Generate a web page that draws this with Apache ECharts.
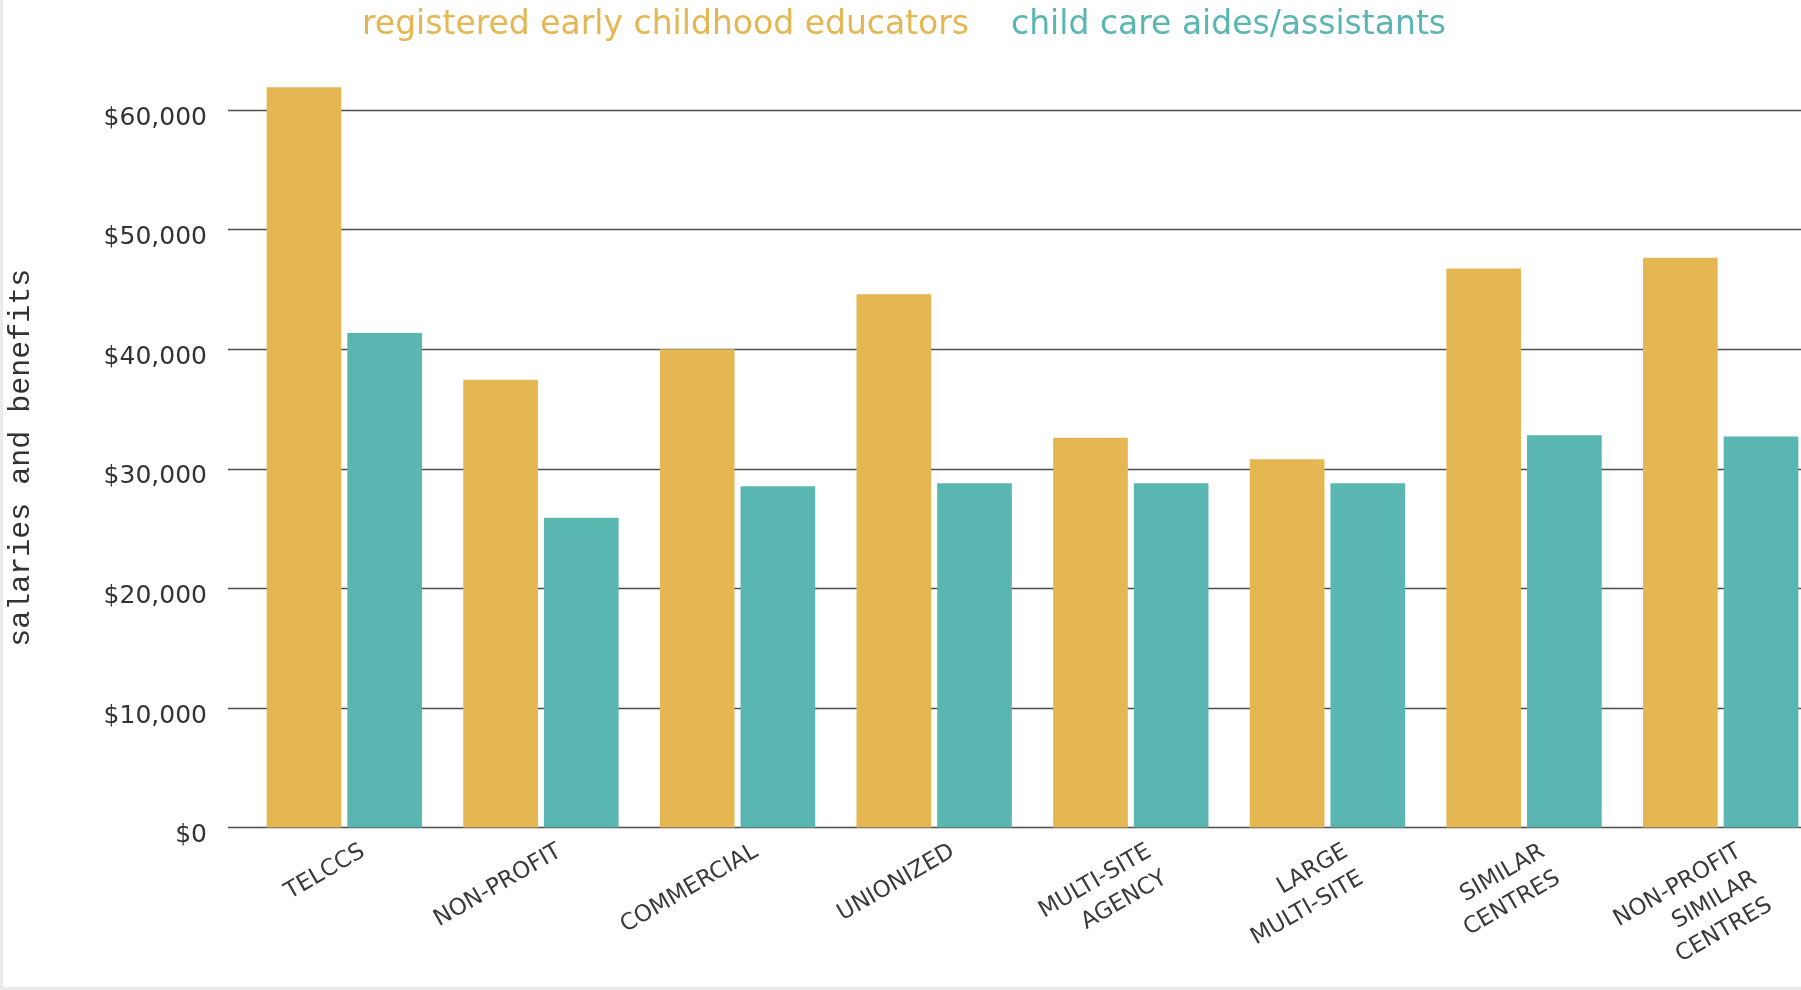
<!DOCTYPE html>
<html>
<head>
<meta charset="utf-8">
<script src="https://cdn.jsdelivr.net/npm/echarts@6/dist/echarts.min.js"></script>
<style>
  html, body { margin: 0; padding: 0; background: #ebebeb; width: 1801px; height: 990px; overflow: hidden; }
  #chart { position: absolute; left: 3px; top: 0; width: 1798px; height: 987px; background: #ffffff; }
</style>
</head>
<body>
<div id="chart"></div>
<script>
const categories = [
  'TELCCS',
  'NON-PROFIT',
  'COMMERCIAL',
  'UNIONIZED',
  'MULTI-SITE\nAGENCY',
  'LARGE\nMULTI-SITE',
  'SIMILAR\nCENTRES',
  'NON-PROFIT\nSIMILAR\nCENTRES'
];
const seriesNames = ['registered early childhood educators', 'child care aides/assistants'];
const eceValues = [61900, 37450, 40000, 44600, 32600, 30800, 46750, 47650];
const aideValues = [41350, 25900, 28550, 28800, 28800, 28800, 32800, 32700];
const yTicks = { min: 0, max: 60000, interval: 10000 };
const colors = ['#E5B752', '#5AB6B1'];

const chart = echarts.init(document.getElementById('chart'), null, { renderer: 'canvas' });

const option = {
  animation: false,
  backgroundColor: '#ffffff',
  legend: {
    left: 349,
    top: 4,
    icon: 'rect',
    itemWidth: 0,
    itemHeight: 0,
    itemGap: 37,
    selectedMode: false,
    textStyle: { fontFamily: 'DejaVu Sans', fontSize: 33, fontWeight: 'normal' },
    data: [
      { name: seriesNames[0], textStyle: { color: colors[0] } },
      { name: seriesNames[1], textStyle: { color: colors[1] } }
    ]
  },
  grid: [
    { left: 225, width: 1573, top: 110, bottom: 159.4, outerBoundsMode: 'none', containLabel: false },
    { left: 243, width: 1573, top: 110, bottom: 159.4, outerBoundsMode: 'none', containLabel: false },
    { left: 254, width: 1573, top: 110, bottom: 159.4, outerBoundsMode: 'none', containLabel: false }
  ],
  xAxis: [
    { gridIndex: 0, type: 'value', min: 0, max: 1, show: false },
    {
      gridIndex: 1, type: 'category', data: categories,
      axisLine: { show: false }, axisTick: { show: false }, axisLabel: { show: false }
    },
    {
      gridIndex: 2, type: 'category', data: categories,
      axisLine: { show: false }, axisTick: { show: false },
      axisLabel: {
        show: true, interval: 0, rotate: 30, margin: 9,
        verticalAlign: 'top',
        fontFamily: 'DejaVu Sans', fontSize: 23, fontWeight: 'normal', color: '#3a3a3a',
        lineHeight: 31
      }
    }
  ],
  yAxis: [
    {
      gridIndex: 0, type: 'value', min: yTicks.min, max: yTicks.max, interval: yTicks.interval,
      axisLine: { show: false }, axisTick: { show: false },
      splitLine: { show: true, lineStyle: { color: '#4d4d4d', width: 1.3 } },
      axisLabel: {
        margin: 21, fontFamily: 'DejaVu Sans', fontSize: 25, color: '#333333',
        verticalAlign: 'top', lineHeight: 16,
        formatter: v => '$' + v.toLocaleString('en-US')
      },
      name: 'salaries and benefits',
      nameLocation: 'middle',
      nameGap: 192,
      nameTextStyle: { fontFamily: 'Liberation Mono', fontSize: 30, color: '#333333', padding: [0, 0, 0, 22] }
    },
    {
      gridIndex: 1, type: 'value', min: yTicks.min, max: yTicks.max, interval: yTicks.interval,
      show: false, splitLine: { show: false }
    },
    {
      gridIndex: 2, type: 'value', min: yTicks.min, max: yTicks.max, interval: yTicks.interval,
      show: false, splitLine: { show: false }
    }
  ],
  series: [
    {
      name: seriesNames[0], type: 'bar', xAxisIndex: 1, yAxisIndex: 1,
      data: eceValues, clip: false,
      barCategoryGap: '21%', barGap: '8%',
      itemStyle: { color: colors[0] }
    },
    {
      name: seriesNames[1], type: 'bar', xAxisIndex: 1, yAxisIndex: 1,
      data: aideValues, clip: false,
      barCategoryGap: '21%', barGap: '8%',
      itemStyle: { color: colors[1] }
    }
  ]
};

chart.setOption(option);
</script>
</body>
</html>
